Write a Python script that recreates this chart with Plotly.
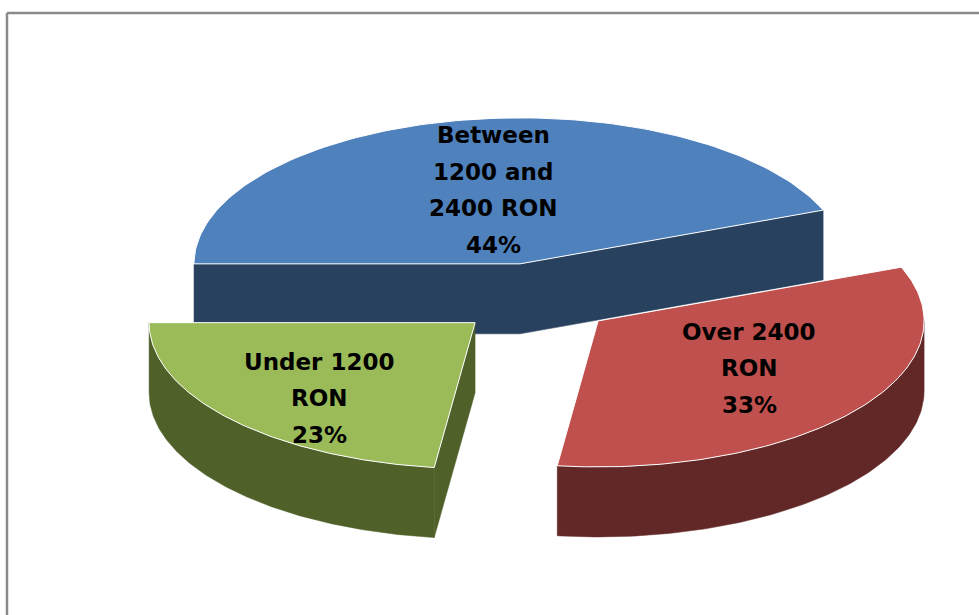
import numpy as np
import plotly.graph_objects as go

# Income bands and their shares (%)
categories = ["Between 1200 and 2400 RON", "Over 2400 RON", "Under 1200 RON"]
shares = [44, 33, 23]
label_lines = [
    ["Between", "1200 and", "2400 RON"],
    ["Over 2400", "RON"],
    ["Under 1200", "RON"],
]

# Styling
top_colors = ["#4F81BD", "#C0504D", "#9BBB59"]
side_colors = ["#28415F", "#612827", "#4F6029"]
label_centers = [(493, 190), (749, 368), (319, 398)]  # pixel positions of label blocks
line_gap = 36.5

# 3-D pie geometry (pixel space, y grows downwards)
W, H = 979, 615
CX, CY = 535, 299          # pie centre before explosion
RX, RY = 326, 146          # ellipse radii of the top face
DEPTH = 70                 # thickness of the pie
EXPLODE = 0.245            # pull of each slice as a fraction of the radius
START = 180.0              # first slice starts at 9 o'clock and runs clockwise


def arc(ox, oy, t0, t1, n=120, dy=0.0):
    th = np.radians(np.linspace(t0, t1, n))
    return ox + RX * np.cos(th), oy - RY * np.sin(th) + dy


def edge(ox, oy, t):
    r = np.radians(t)
    return ox + RX * np.cos(r), oy - RY * np.sin(r)


fig = go.Figure()

def poly(xs, ys, fill, line_color, line_width):
    xs, ys = list(xs), list(ys)
    fig.add_trace(go.Scatter(
        x=xs + xs[:1], y=ys + ys[:1], mode="lines", fill="toself",
        fillcolor=fill, line=dict(color=line_color, width=line_width),
        hoverinfo="skip", showlegend=False,
    ))

angle = START
for i, share in enumerate(shares):
    sweep = share / sum(shares) * 360.0
    a, b = angle, angle - sweep
    angle = b
    mid = np.radians((a + b) / 2)
    ox = CX + EXPLODE * RX * np.cos(mid)
    oy = CY - EXPLODE * RY * np.sin(mid)
    side = side_colors[i]

    # radial walls that face the viewer, joined at the apex into one face
    show_a = np.cos(np.radians(a)) < 0
    show_b = np.cos(np.radians(b)) > 0
    top_path = []
    if show_a:
        top_path.append(edge(ox, oy, a))
    if show_a or show_b:
        top_path.append((ox, oy))
    if show_b:
        top_path.append(edge(ox, oy, b))
    if top_path:
        xs = [p[0] for p in top_path] + [p[0] for p in reversed(top_path)]
        ys = [p[1] for p in top_path] + [p[1] + DEPTH for p in reversed(top_path)]
        poly(xs, ys, side, side, 0.5)

    # curved outer wall on the front half
    hi, lo = min(a, 0.0), max(b, -180.0)
    if hi > lo:
        x1, y1 = arc(ox, oy, hi, lo)
        x2, y2 = arc(ox, oy, lo, hi, dy=DEPTH)
        poly(np.r_[x1, x2], np.r_[y1, y2], side, side, 0.5)

    # top face
    xa, ya = arc(ox, oy, a, b)
    poly(np.r_[ox, xa], np.r_[oy, ya], top_colors[i], "white", 1)

# labels
for i, share in enumerate(shares):
    lines = label_lines[i] + [f"{share}%"]
    lx, ly = label_centers[i]
    n = len(lines)
    for k, txt in enumerate(lines):
        fig.add_annotation(
            x=lx, y=ly + (k - (n - 1) / 2) * line_gap, text=txt,
            showarrow=False, xanchor="center", yanchor="middle",
            font=dict(family="DejaVu Sans", size=23, color="black", weight="bold"),
        )

# chart area frame
fig.add_shape(type="line", x0=7, y0=13, x1=W + 5, y1=13,
              line=dict(color="#8A8A8A", width=2.5))
fig.add_shape(type="line", x0=7, y0=13, x1=7, y1=H + 5,
              line=dict(color="#8A8A8A", width=2.5))

fig.update_layout(
    width=W, height=H,
    margin=dict(l=0, r=0, t=0, b=0),
    paper_bgcolor="white", plot_bgcolor="white",
    xaxis=dict(range=[0, W], visible=False, fixedrange=True),
    yaxis=dict(range=[H, 0], visible=False, fixedrange=True),
    showlegend=False,
)

fig.write_html("out.html")
